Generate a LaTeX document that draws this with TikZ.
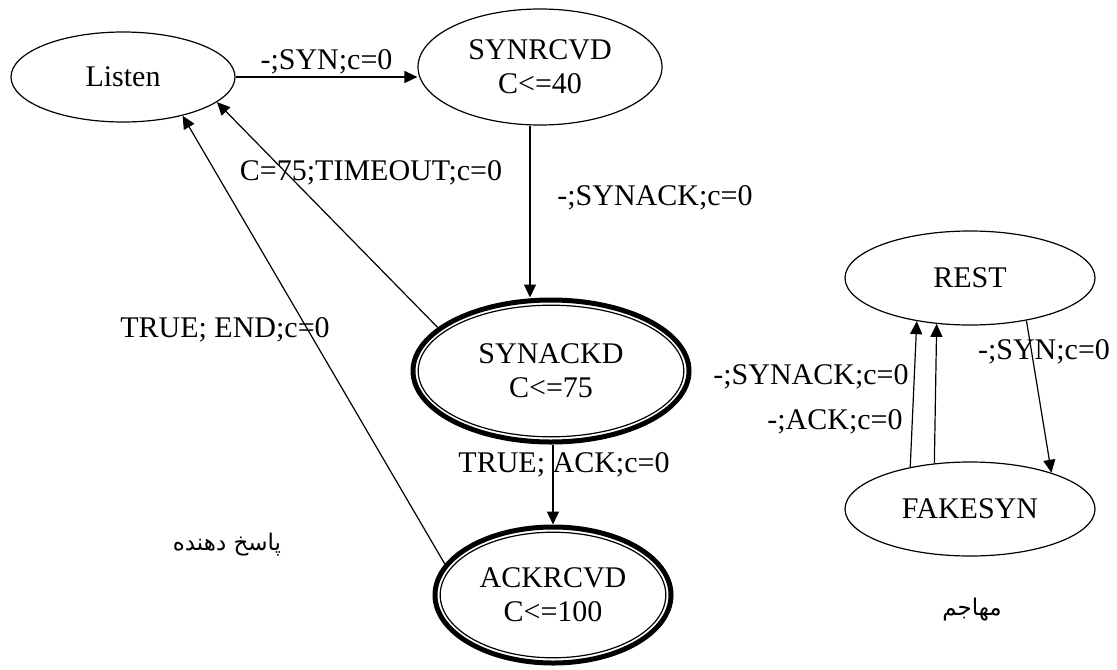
\documentclass[tikz,border=0pt]{standalone}
\usepackage{fontspec}
\setmainfont{Liberation Serif}
\newfontfamily\arabicfont[Script=Arabic]{DejaVu Sans}
\TeXXeTstate=1
\usetikzlibrary{shapes.geometric,arrows.meta,positioning}
\tikzset{
  state/.style={ellipse, draw, line width=0.6pt, align=center, inner sep=0pt,
    font=\fontsize{15}{17}\selectfont},
  accept/.style={state, line width=2.5pt},
  lbl/.style={font=\fontsize{15}{17}\selectfont, inner sep=1pt},
  fa/.style={font=\arabicfont\fontsize{11.5}{13}\selectfont, inner sep=1pt},
  arr/.style={-{Triangle[length=6.5pt,width=6pt]}, line width=0.6pt}
}
\begin{document}
\begin{tikzpicture}[x=0.5pt,y=-0.5pt]
\useasboundingbox (0,0) rectangle (1117,669);
% responder
\node[state, minimum width=112pt, minimum height=45pt] (listen) at (123,77) {Listen};
\node[state, minimum width=122pt, minimum height=58pt] (synrcvd) at (540,67) {SYNRCVD\\C<=40};
\node[accept, minimum width=138pt, minimum height=71pt] (synackd) at (551,371) {SYNACKD\\C<=75};
\draw[line width=0.6pt] (synackd) ellipse [x radius=66.4pt, y radius=32.9pt];
\node[accept, minimum width=118pt, minimum height=68pt] (ackrcvd) at (553,595) {ACKRCVD\\C<=100};
\draw[line width=0.6pt] (ackrcvd) ellipse [x radius=56.4pt, y radius=31.4pt];
\draw[arr] (listen.east) -- node[lbl, above] (synlbl) {-;SYN;c=0} (listen.east -| synrcvd.west);
\draw[arr] ([xshift=-5pt]synrcvd.south) -- ([xshift=-5pt]synrcvd.south |- synackd.north);
\node[lbl] (synacklbl) at (655,198) {-;SYNACK;c=0};
\draw[arr] (synackd.159) -- (listen.-15);
\node[lbl] (timeoutlbl) at (371,173) {C=75;TIMEOUT;c=0};
\draw[arr] (ackrcvd.164) -- (listen.-33);
\node[lbl] (endlbl) at (225,330) {TRUE; END;c=0};
\draw[arr] (ackrcvd.north |- synackd.south) -- (ackrcvd.north);
\node[lbl] (acklbl) at (564,465) {TRUE; ACK;c=0};
\node[fa] (resp) at (227,545) {\beginR پاسخ دهنده\endR};
% attacker
\node[state, minimum width=125pt, minimum height=47pt] (rest) at (970,278) {REST};
\node[state, minimum width=125pt, minimum height=47pt] (fakesyn) at (970,509) {FAKESYN};
\draw[arr] (fakesyn.145) -- (rest.-141);
\draw[arr] (fakesyn.128) -- (rest.-126);
\draw[arr] (rest.-37) -- (fakesyn.24);
\node[lbl] (fsynacklbl) at (811,377) {-;SYNACK;c=0};
\node[lbl] (facklbl) at (835,422) {-;ACK;c=0};
\node[lbl] (fsynlbl) at (1044,352) {-;SYN;c=0};
\node[fa] (att) at (972,610) {\beginR مهاجم\endR};
\end{tikzpicture}
\end{document}
